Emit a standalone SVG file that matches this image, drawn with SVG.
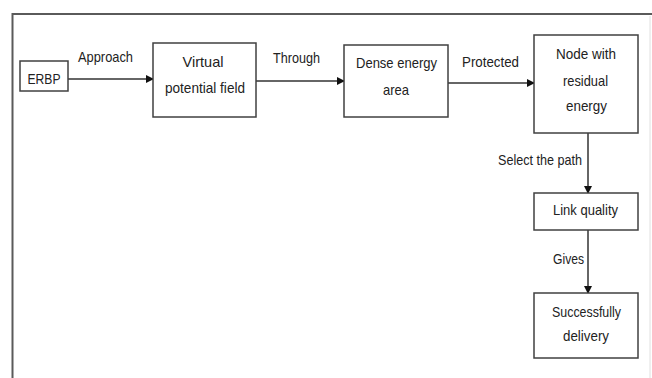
<svg xmlns="http://www.w3.org/2000/svg" width="652" height="378" viewBox="0 0 652 378">
<style>
.box{fill:#fff;stroke:#404040;stroke-width:1.5}
.t{font-family:"Liberation Sans",Arial,sans-serif;font-size:15px;fill:#222;text-anchor:middle}
.l{font-family:"Liberation Sans",Arial,sans-serif;font-size:15px;fill:#222}
.c{stroke:#333;stroke-width:1.5;fill:none}
</style>
<defs>
<marker id="ah" markerWidth="8" markerHeight="8" refX="7" refY="4" orient="auto" markerUnits="userSpaceOnUse">
<path d="M0,0 L8,4 L0,8 Z" fill="#111"/>
</marker>
</defs>
<rect width="652" height="378" fill="#fff"/>
<g id="frame">
<path d="M12.5,378 V14 H652" fill="none" stroke="#5a5a5a" stroke-width="2"/>
<line x1="650" y1="16" x2="650" y2="378" stroke="#e0e0e0" stroke-width="1"/>
</g>
<g id="connectors">
<line class="c" x1="68" y1="79" x2="153" y2="79" marker-end="url(#ah)"/>
<line class="c" x1="256" y1="81" x2="344" y2="81" marker-end="url(#ah)"/>
<line class="c" x1="448" y1="83" x2="534" y2="83" marker-end="url(#ah)"/>
<line class="c" x1="588" y1="133" x2="588" y2="193" marker-end="url(#ah)"/>
<line class="c" x1="588" y1="230" x2="588" y2="293" marker-end="url(#ah)"/>
<text class="l" x="78" y="62" textLength="55" lengthAdjust="spacingAndGlyphs">Approach</text>
<text class="l" x="273" y="63" textLength="47" lengthAdjust="spacingAndGlyphs">Through</text>
<text class="l" x="462" y="67" textLength="57" lengthAdjust="spacingAndGlyphs">Protected</text>
<text class="l" x="498" y="165" textLength="84" lengthAdjust="spacingAndGlyphs">Select the path</text>
<text class="l" x="553" y="264" textLength="31" lengthAdjust="spacingAndGlyphs">Gives</text>
</g>
<g id="erbp">
<rect class="box" x="20" y="61" width="48" height="30"/>
<text class="t" x="44" y="84" textLength="33" lengthAdjust="spacingAndGlyphs">ERBP</text>
</g>
<g id="vpf">
<rect class="box" x="153" y="43" width="103" height="74"/>
<text class="t" x="203" y="67" textLength="41" lengthAdjust="spacingAndGlyphs">Virtual</text>
<text class="t" x="205" y="93" textLength="80" lengthAdjust="spacingAndGlyphs">potential field</text>
</g>
<g id="dense">
<rect class="box" x="344" y="45" width="104" height="72"/>
<text class="t" x="396.5" y="68" textLength="81" lengthAdjust="spacingAndGlyphs">Dense energy</text>
<text class="t" x="396" y="95" textLength="26" lengthAdjust="spacingAndGlyphs">area</text>
</g>
<g id="node">
<rect class="box" x="534" y="35" width="104" height="98"/>
<text class="t" x="586" y="59" textLength="60" lengthAdjust="spacingAndGlyphs">Node with</text>
<text class="t" x="585.5" y="86" textLength="45" lengthAdjust="spacingAndGlyphs">residual</text>
<text class="t" x="586.5" y="111" textLength="41" lengthAdjust="spacingAndGlyphs">energy</text>
</g>
<g id="link">
<rect class="box" x="534" y="193" width="104" height="37"/>
<text class="t" x="585.5" y="215" textLength="65" lengthAdjust="spacingAndGlyphs">Link quality</text>
</g>
<g id="success">
<rect class="box" x="534" y="293" width="104" height="65"/>
<text class="t" x="586.5" y="317" textLength="69" lengthAdjust="spacingAndGlyphs">Successfully</text>
<text class="t" x="586" y="341" textLength="46" lengthAdjust="spacingAndGlyphs">delivery</text>
</g>
</svg>
